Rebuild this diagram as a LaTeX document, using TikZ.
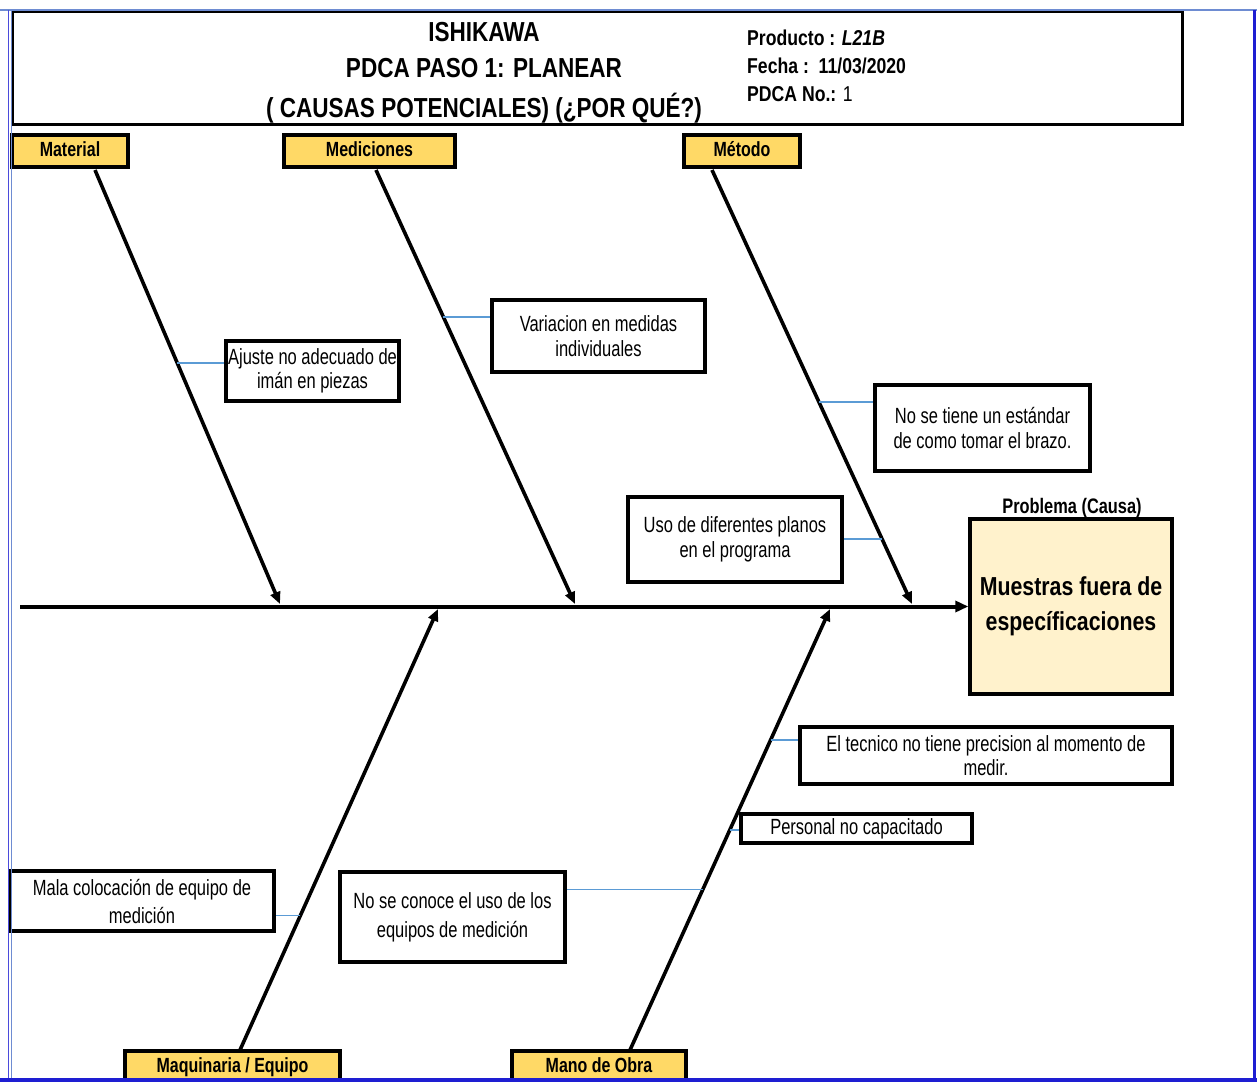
\documentclass[tikz,border=0pt]{standalone}
\usepackage{fontspec}
\setmainfont{Liberation Sans}[FakeStretch=0.82]
\newfontfamily\causefont{Liberation Sans}[FakeStretch=0.75]
\newfontfamily\labelfont{Liberation Sans}[FakeStretch=0.78]
\usetikzlibrary{arrows.meta,calc}
\definecolor{labelyellow}{RGB}{255,217,102}
\definecolor{probfill}{RGB}{255,242,204}
\definecolor{connblue}{RGB}{91,155,213}
\definecolor{frameblue}{RGB}{30,30,210}
\definecolor{framelight}{RGB}{110,140,210}
\begin{document}
\begin{tikzpicture}[x=1pt,y=-1pt,
  catbox/.style={draw=black,line width=3.4pt,fill=labelyellow,font=\labelfont\fontsize{20.5}{24}\selectfont\bfseries,inner sep=0pt,minimum height=32pt,text height=15pt,text depth=4pt},
  causebox/.style={draw=black,line width=3.4pt,fill=white,font=\causefont\fontsize{22}{24.5}\selectfont,align=center,inner sep=0pt},
  bone/.style={line width=3.6pt,-{Triangle[length=12pt,width=10pt]}},
  conn/.style={draw=connblue,line width=1.7pt},
  titletext/.style={font=\fontsize{27.5}{30}\selectfont\bfseries,inner sep=0pt,anchor=base},
  infotext/.style={font=\fontsize{21.5}{24}\selectfont\bfseries,inner sep=0pt,anchor=base west},
]
\useasboundingbox (0,0) rectangle (1257,1083);
\clip (0,0) rectangle (1257,1081);

% header
\draw[line width=3pt] (12,12) rectangle (1182,125);
\node[titletext] (t1) at (484,42) {ISHIKAWA};
\node[titletext] (t2) at (484,78) {PDCA PASO 1: PLANEAR};
\node[titletext] (t3) at (484,118) {( CAUSAS POTENCIALES) (¿POR QUÉ?)};
\node[infotext] (i1) at (747,46) {Producto : \textit{L21B}};
\node[infotext] (i2) at (747,74) {Fecha :\ \ 11/03/2020};
\node[infotext] (i3) at (747,102) {PDCA No.: \mdseries 1};

% category labels
\node[catbox,minimum width=116pt] (mat) at (70,151) {Material};
\node[catbox,minimum width=171pt] (med) at (369.5,151) {Mediciones};
\node[catbox,minimum width=116pt] (met) at (742,151) {Método};
\node[catbox,minimum width=215pt] (maq) at (232.5,1067) {Maquinaria / Equipo};
\node[catbox,minimum width=174pt] (man) at (599,1067) {Mano de Obra};

% problem
\node[draw=black,line width=3.4pt,fill=probfill,minimum width=202pt,minimum height=175pt,inner sep=0pt,align=center,font=\fontsize{26}{35}\selectfont\bfseries] (prob) at (1071,606.5) {Muestras fuera de\\específicaciones};
\node[font=\labelfont\fontsize{21}{24}\selectfont\bfseries,inner sep=0pt,anchor=base] (probt) at (1072,513) {Problema (Causa)};

% spine
\coordinate (s0) at (20,606.5);
\draw[line width=4pt,-{Triangle[length=13pt,width=11pt]}] (s0) -- (s0 -| prob.west);

% bones
\coordinate (mat1) at (95,170);   \coordinate (mat2) at (280,604);
\coordinate (med1) at (376,170);  \coordinate (med2) at (575,604);
\coordinate (met1) at (712,170);  \coordinate (met2) at (912,604);
\coordinate (maq1) at (240,1050); \coordinate (maq2) at (438,609);
\coordinate (man1) at (630,1050); \coordinate (man2) at (830,609);
\draw[bone] (mat1) -- (mat2);
\draw[bone] (med1) -- (med2);
\draw[bone] (met1) -- (met2);
\draw[bone] (maq1) -- (maq2);
\draw[bone] (man1) -- (man2);

% cause boxes
\node[causebox,minimum width=173pt,minimum height=60pt] (a1) at (312.5,371) {Ajuste no adecuado de\\imán en piezas};
\node[causebox,minimum width=213pt,minimum height=72pt] (a2) at (598.5,336) {Variacion en medidas\\individuales};
\node[causebox,minimum width=215pt,minimum height=86pt] (a3) at (982.5,428) {No se tiene un estándar\\de como tomar el brazo.};
\node[causebox,minimum width=214pt,minimum height=85pt] (a4) at (735,539.5) {Uso de diferentes planos\\en el programa};
\node[causebox,minimum width=372pt,minimum height=57pt] (b1) at (986,755.5) {El tecnico no tiene precision al momento de\\medir.};
\node[causebox,minimum width=231pt,minimum height=29pt] (b2) at (856.5,828.5) {Personal no capacitado};
\node[causebox,minimum width=225pt,minimum height=90pt,font=\causefont\fontsize{22}{29}\selectfont] (b3) at (452.5,917) {No se conoce el uso de los\\equipos de medición};
\node[causebox,minimum width=264pt,minimum height=60pt,font=\causefont\fontsize{22}{28}\selectfont] (b4) at (142,901) {Mala colocación de equipo de\\medición};

% connectors
\coordinate (j1) at ($(mat1)!0.445!(mat2)$);
\coordinate (j2) at ($(med1)!0.339!(med2)$);
\coordinate (j3) at ($(met1)!0.534!(met2)$);
\coordinate (j4) at ($(met1)!0.851!(met2)$);
\coordinate (k1) at ($(man1)!0.7025!(man2)$);
\coordinate (k2) at ($(man1)!0.499!(man2)$);
\coordinate (k3) at ($(man1)!0.364!(man2)$);
\coordinate (k4) at ($(maq1)!0.305!(maq2)$);
\draw[conn] (j1) -- (j1 -| a1.west);
\draw[conn] (j2) -- (j2 -| a2.west);
\draw[conn] (j3) -- (j3 -| a3.west);
\draw[conn] (j4) -- (j4 -| a4.east);
\draw[conn] (k1) -- (k1 -| b1.west);
\draw[conn] (k2) -- (k2 -| b2.west);
\draw[conn] (k3) -- (k3 -| b3.east);
\draw[conn] (k4) -- (k4 -| b4.east);

% frame
\draw[framelight,line width=1.4pt] (0,10) -- (1257,10);
\draw[frameblue!80!white,line width=1.4pt] (8.5,10) -- (8.5,1083);
\draw[framelight,line width=1.2pt] (11.5,10) -- (11.5,1083);
\draw[frameblue,line width=3.4pt] (1254.5,10) -- (1254.5,1083);
\draw[frameblue,line width=3.4pt] (0,1080) -- (1257,1080);
\end{tikzpicture}
\end{document}
